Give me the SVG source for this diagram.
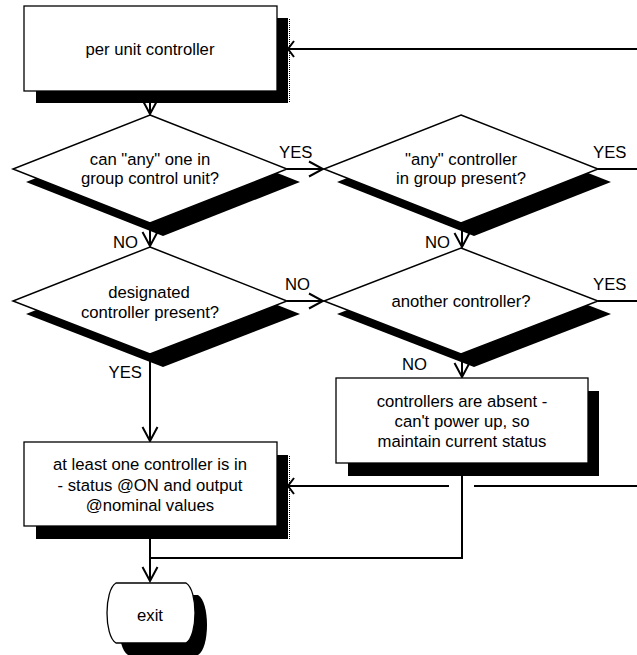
<svg xmlns="http://www.w3.org/2000/svg" width="637" height="655" viewBox="0 0 637 655">
  <style>
    .box { fill: #fff; stroke: #000; stroke-width: 1.3; }
    .dia { fill: #fff; stroke: #000; stroke-width: 1.5; }
    .shadow { fill: #000; stroke: none; }
    .dots { fill: none; stroke: #000; stroke-width: 1; stroke-dasharray: 1 1; }
    .wire { fill: none; stroke: #000; stroke-width: 2; }
    .t { font-family: "Liberation Sans", Arial, sans-serif; font-size: 16.7px; fill: #000; text-anchor: middle; }
    .lbl { font-family: "Liberation Sans", Arial, sans-serif; font-size: 16.7px; fill: #000; text-anchor: start; }
    .lbl-end { text-anchor: end; }
  </style>
  <defs>
    <marker id="arrow" markerUnits="userSpaceOnUse" viewBox="-17 -10 19 20" markerWidth="19" markerHeight="20" refX="0" refY="0" orient="auto">
      <path d="M-14,-7.5 L0,0 L-14,7.5" fill="none" stroke="#000" stroke-width="2"/>
    </marker>
  </defs>

  <rect width="637" height="655" fill="#fff"/>

  <!-- connectors (drawn first so node shadows sit over them) -->
  <g id="connectors">
    <path class="wire" d="M150,91 V114" marker-end="url(#arrow)"/>
    <path class="wire" d="M287,169 H323" marker-end="url(#arrow)"/>
    <path class="wire" d="M598,169 H637"/>
    <path class="wire" d="M150,223 V246" marker-end="url(#arrow)"/>
    <path class="wire" d="M462,223 V247" marker-end="url(#arrow)"/>
    <path class="wire" d="M287,301 H323" marker-end="url(#arrow)"/>
    <path class="wire" d="M598,301 H637"/>
    <path class="wire" d="M462,354 V377" marker-end="url(#arrow)"/>
    <path class="wire" d="M150,354 V441" marker-end="url(#arrow)"/>
    <path class="wire" d="M462,463 V558 H150"/>
    <path class="wire" d="M150,526 V581" marker-end="url(#arrow)"/>
    <!-- return lines entering from the right edge -->
    <path class="wire" d="M637,49 H289"/>
    <path class="wire" d="M294,41 L288,49 L294,57"/>
    <path class="wire" d="M637,486 H474"/>
    <path class="wire" d="M449,486 H289"/>
    <path class="wire" d="M294,478 L288,486 L294,494"/>
  </g>

  <g id="start">
    <rect class="shadow" x="36" y="18" width="252" height="85"/>
    <line class="dots" x1="289.5" y1="19" x2="289.5" y2="103"/>
    <rect class="box" x="24" y="6" width="253" height="85"/>
    <text class="t" x="150" y="55">per unit controller</text>
  </g>

  <g id="q-any-can-control">
    <polygon class="shadow" points="163,128 300,182 163,236 26,182"/>
    <polygon class="dia" points="150,115 287,169 150,223 13,169"/>
    <text class="t" x="150" y="165">can "any" one in</text>
    <text class="t" x="150" y="184">group control unit?</text>
  </g>

  <g id="q-any-present">
    <polygon class="shadow" points="474,128 611,182 474,236 337,182"/>
    <polygon class="dia" points="461,115 598,169 461,223 324,169"/>
    <text class="t" x="461" y="165">"any" controller</text>
    <text class="t" x="461" y="184">in group present?</text>
  </g>

  <g id="q-designated">
    <polygon class="shadow" points="163,260 300,314 163,367 26,314"/>
    <polygon class="dia" points="150,247 287,301 150,354 13,301"/>
    <text class="t" x="149" y="298">designated</text>
    <text class="t" x="150" y="318">controller present?</text>
  </g>

  <g id="q-another">
    <polygon class="shadow" points="474,261 611,314 474,367 337,314"/>
    <polygon class="dia" points="461,248 598,301 461,354 324,301"/>
    <text class="t" x="461" y="307">another controller?</text>
  </g>

  <g id="absent">
    <rect class="shadow" x="348" y="391" width="251" height="85"/>
    <rect class="box" x="336" y="378" width="252" height="85"/>
    <text class="t" x="462" y="407">controllers are absent -</text>
    <text class="t" x="462" y="427">can't power up, so</text>
    <text class="t" x="462" y="447">maintain current status</text>
  </g>

  <g id="in-on">
    <rect class="shadow" x="36" y="455" width="252" height="84"/>
    <line class="dots" x1="289.5" y1="456" x2="289.5" y2="539"/>
    <rect class="box" x="24" y="442" width="253" height="84"/>
    <text class="t" x="150" y="470">at least one controller is in</text>
    <text class="t" x="150" y="491">- status @ON and output</text>
    <text class="t" x="150" y="511">@nominal values</text>
  </g>

  <g id="exit">
    <path class="shadow" d="M128,595 H198 C210,602 210,648 198,655 H128 C116,648 116,602 128,595 Z"/>
    <path class="box" d="M116,583 H186 C198,590 198,636 186,643 H116 C104,636 104,590 116,583 Z"/>
    <text class="t" x="150" y="621">exit</text>
  </g>

  <g id="connector-labels">
    <text class="lbl" x="279" y="158">YES</text>
    <text class="lbl" x="593" y="158">YES</text>
    <text class="lbl lbl-end" x="138" y="248">NO</text>
    <text class="lbl lbl-end" x="450" y="248">NO</text>
    <text class="lbl" x="285" y="290">NO</text>
    <text class="lbl" x="593" y="290">YES</text>
    <text class="lbl" x="402" y="370">NO</text>
    <text class="lbl lbl-end" x="142" y="378">YES</text>
  </g>
</svg>
